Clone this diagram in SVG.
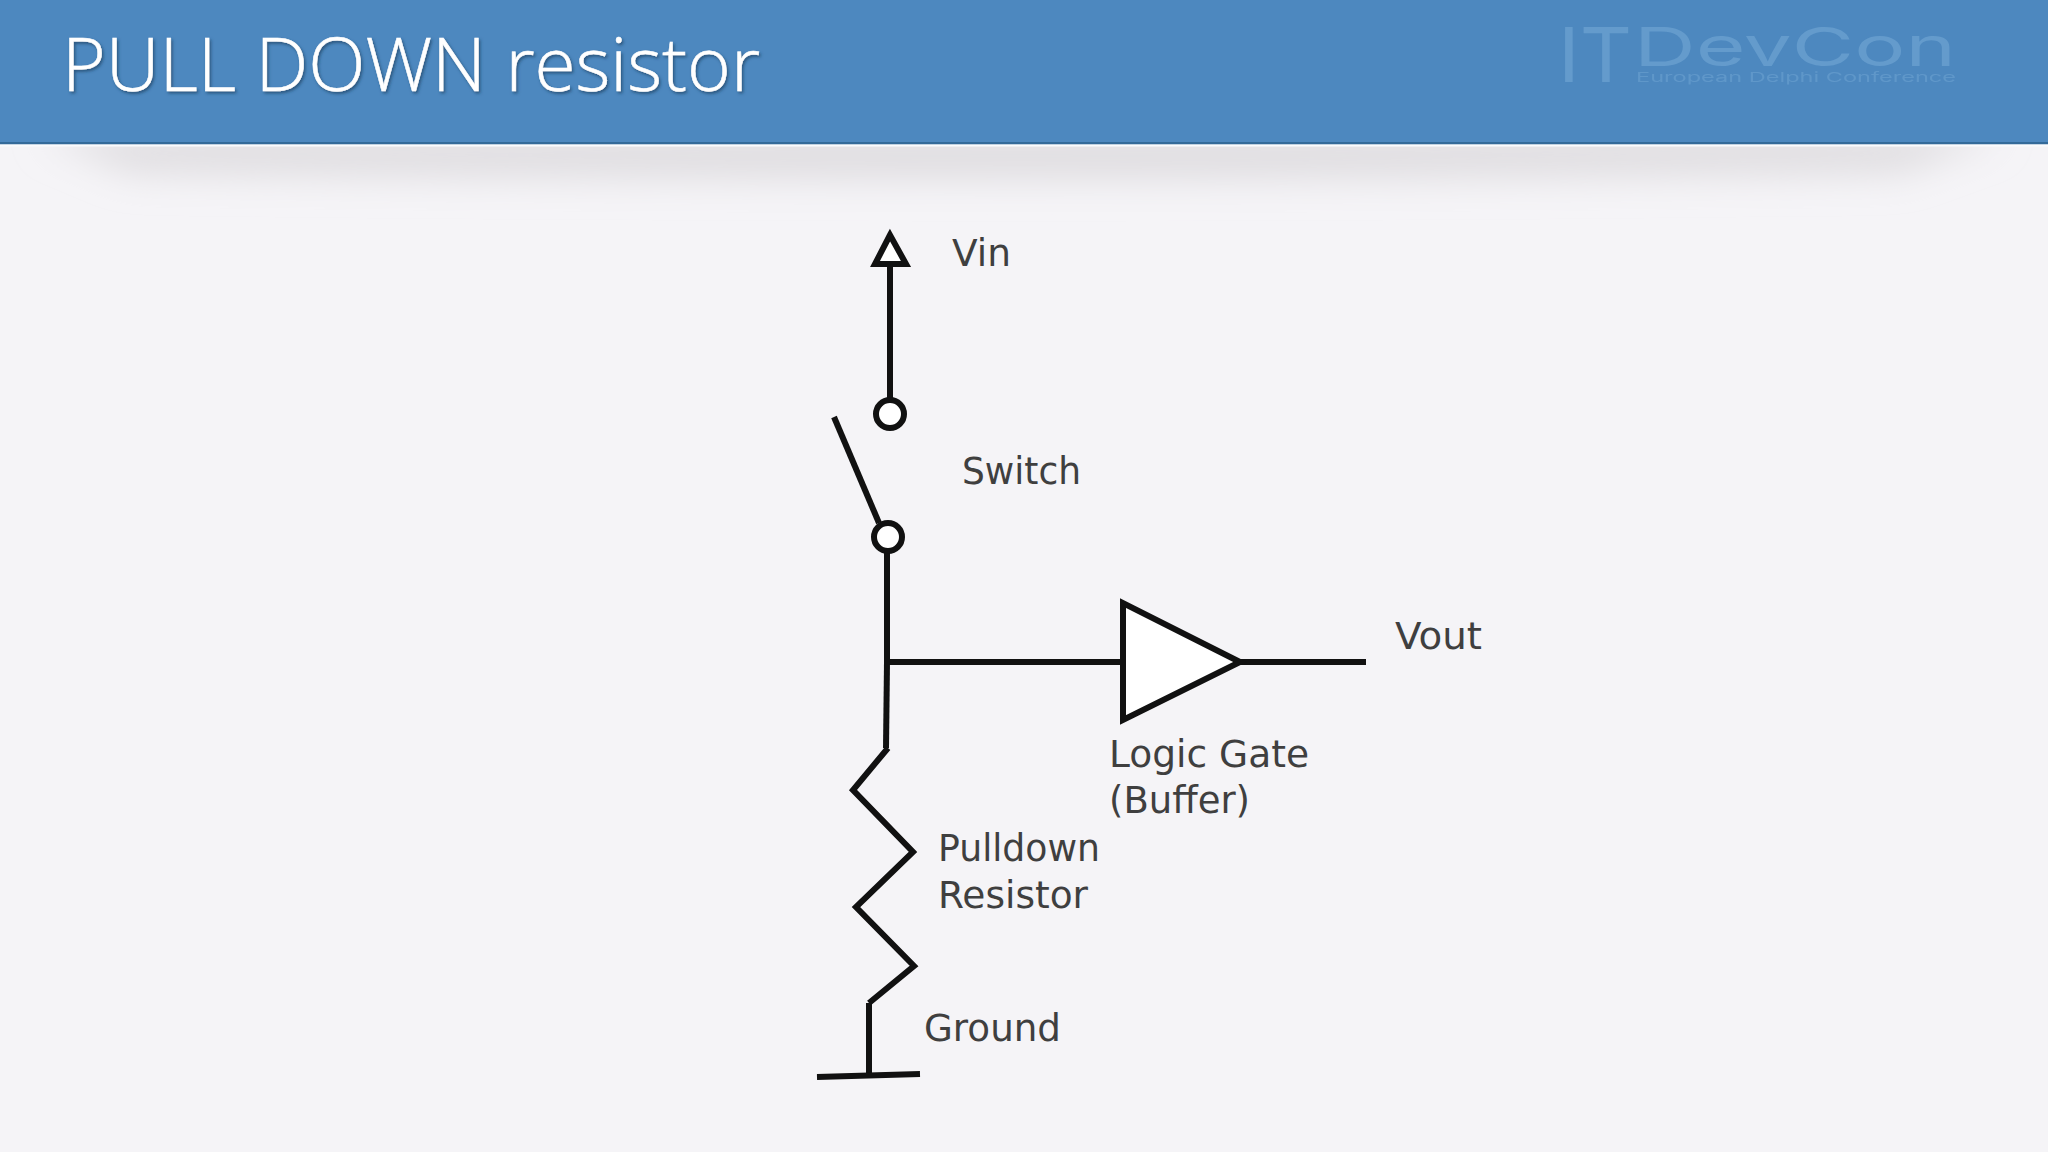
<svg xmlns="http://www.w3.org/2000/svg" width="2048" height="1152" viewBox="0 0 2048 1152">
<style>
.w{fill:none;stroke:#111;stroke-width:6;stroke-linejoin:miter;stroke-linecap:butt}
.s{fill:#fff;stroke:#111;stroke-width:6}
.l{font-family:"DejaVu Sans",sans-serif;font-size:37px;fill:#3f3f3f}
.t{font-family:"Open Sans","Noto Sans",sans-serif;font-weight:300;font-size:74px;fill:#fff;stroke:#fff;stroke-width:.5}
.g{font-family:"Inter","Liberation Sans",sans-serif;font-weight:400;fill:#649bcc}
</style>
<defs>
<filter id="b" x="-5%" y="-150%" width="110%" height="400%"><feGaussianBlur stdDeviation="18"/></filter>
<filter id="ts" x="-5%" y="-20%" width="110%" height="150%"><feDropShadow dx="1.500" dy="2" stdDeviation="1.500" flood-color="#1d3f60" flood-opacity="0.7"/></filter>
</defs>
<rect width="2048" height="1152" fill="#f5f4f7"/>
<g id="shadow"><path d="M40 134H2005L1900 172Q1024 184 130 172Z" fill="#dedcdf" filter="url(#b)"/></g>
<g id="header">
<rect width="2048" height="143" fill="#4d88bf"/>
<rect y="142" width="2048" height="2.500" fill="#336a99"/>
<rect y="144.500" width="2048" height="2" fill="#fafbfd"/>
<text x="62" y="91" class="t" filter="url(#ts)" textLength="698" lengthAdjust="spacingAndGlyphs">PULL DOWN resistor</text>
</g>
<g id="logo">
<text x="1558" y="82" class="g" font-size="76" textLength="74" lengthAdjust="spacingAndGlyphs">IT</text>
<text x="1634" y="66" class="g" font-size="54" textLength="322" lengthAdjust="spacingAndGlyphs">DevCon</text>
<text x="1636" y="82" class="g" font-size="13" textLength="320" lengthAdjust="spacingAndGlyphs" opacity="0.8">European Delphi Conference</text>
</g>
<g id="connectors">
<path class="w" d="M890 264V399"/>
<path class="w" d="M834 417L879 523"/>
<path class="w" d="M887 551V662"/>
<path class="w" d="M888 662H1123"/>
<path class="w" d="M1240 662H1366"/>
<path class="w" d="M887 662L886 748"/>
<path class="w" d="M869 1003V1075"/>
</g>
<g id="vin"><path class="s" d="M890 235L875 264H906Z"/><text x="952" y="266" class="l" textLength="59" lengthAdjust="spacingAndGlyphs">Vin</text></g>
<g id="switch"><circle class="s" cx="890" cy="414" r="14"/><circle class="s" cx="888" cy="537" r="14"/><text x="962" y="484" class="l" textLength="119" lengthAdjust="spacingAndGlyphs">Switch</text></g>
<g id="gate"><path class="s" d="M1123 603V720L1240 662Z"/><text x="1109" y="767" class="l" textLength="200" lengthAdjust="spacingAndGlyphs">Logic Gate</text><text x="1109" y="813" class="l" textLength="141" lengthAdjust="spacingAndGlyphs">(Buffer)</text></g>
<g id="vout"><text x="1395" y="649" class="l" textLength="87" lengthAdjust="spacingAndGlyphs">Vout</text></g>
<g id="resistor"><path class="w" d="M888 748L853 790L913 852L856 907L914 966L869 1003"/><text x="938" y="861" class="l" textLength="162" lengthAdjust="spacingAndGlyphs">Pulldown</text><text x="938" y="908" class="l" textLength="150" lengthAdjust="spacingAndGlyphs">Resistor</text></g>
<g id="ground"><path class="w" d="M817 1077L920 1074"/><text x="924" y="1041" class="l" textLength="137" lengthAdjust="spacingAndGlyphs">Ground</text></g>
</svg>
